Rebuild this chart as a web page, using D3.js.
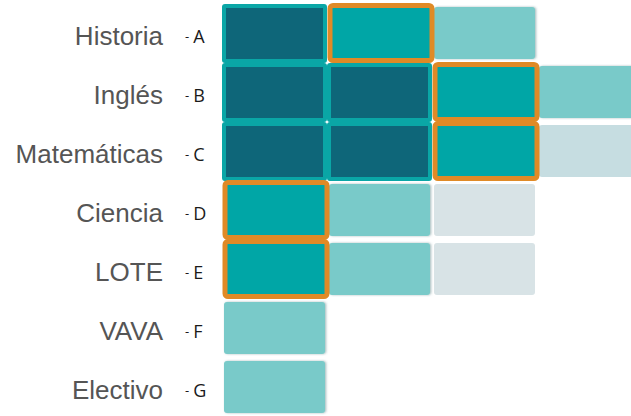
<!DOCTYPE html>
<html>
<head>
<meta charset="utf-8">
<script src="https://cdn.jsdelivr.net/npm/d3@7"></script>
<style>
	html, body { margin: 0; padding: 0; background: #fff; }
	svg { display: block; }
	.subject { font-family: 'Liberation Sans', Arial, sans-serif; fill: #555; }
	.code { font-family: 'Open Sans', 'DejaVu Sans', sans-serif; fill: #1a1a1a; }
</style>
</head>
<body>
<div id="chart"></div>
<script>
// data
const subjects = ['Historia', 'Inglés', 'Matemáticas', 'Ciencia', 'LOTE', 'VAVA', 'Electivo'];
const codes = ['A', 'B', 'C', 'D', 'E', 'F', 'G'];
// cell states per row, left to right
const levels = [
	['dark', 'sel', 'light'],
	['dark', 'dark', 'sel', 'light'],
	['dark', 'dark', 'sel', 'pale2'],
	['sel', 'light', 'pale'],
	['sel', 'light', 'pale'],
	['light'],
	['light']
];
const steps = [0, 1, 2, 3];

const width = 631;
const height = 416;

const fills = {
	dark: '#0e6679',
	sel: '#00a6a6',
	light: '#79cac9',
	pale: '#d8e3e6',
	pale2: '#c6dde1'
};

const $svg = d3.select('#chart').append('svg')
	.attr('width', width)
	.attr('height', height);

// soft edge on the light cells
const $filter = $svg.append('defs').append('filter')
	.attr('id', 'edge')
	.attr('x', '-10%').attr('y', '-10%')
	.attr('width', '120%').attr('height', '120%');
$filter.append('feDropShadow')
	.attr('dx', 1.2).attr('dy', 0)
	.attr('stdDeviation', 1)
	.attr('flood-color', '#3d6f72')
	.attr('flood-opacity', 0.45);

// scales
const y = d3.scaleBand().domain(codes).range([3, 416]);
const x = d3.scaleBand().domain(steps).range([222, 222 + 4 * 105]);

const cells = [];
levels.forEach((row, i) => {
	row.forEach((state, j) => {
		cells.push({ code: codes[i], step: steps[j], state });
	});
});

// draw order: plain cells first, selected ones on top
const order = { pale: 0, pale2: 0, light: 1, dark: 2, sel: 3 };
cells.sort((a, b) => order[a.state] - order[b.state]);

const $cells = $svg.append('g').attr('class', 'g-cells');

$cells.selectAll('rect')
	.data(cells)
	.join('rect')
	.attr('x', d => {
		if (d.state === 'dark') return x(d.step) + 2;
		if (d.state === 'sel') return x(d.step) + 3;
		return x(d.step) + 2;
	})
	.attr('y', d => {
		if (d.state === 'dark') return y(d.code) + 3;
		if (d.state === 'sel') return y(d.code) + 2.5;
		return y(d.code) + 4;
	})
	.attr('width', d => {
		if (d.state === 'dark') return x.bandwidth() - 4;
		if (d.state === 'sel') return x.bandwidth() - 3;
		return x.bandwidth() - 4;
	})
	.attr('height', d => {
		if (d.state === 'dark') return y.bandwidth() - 4;
		if (d.state === 'sel') return y.bandwidth() - 4;
		return y.bandwidth() - 7;
	})
	.attr('rx', d => (d.state === 'dark' ? 1 : 3))
	.attr('fill', d => fills[d.state])
	.attr('stroke', d => {
		if (d.state === 'dark') return '#0aa6a6';
		if (d.state === 'sel') return '#e08a26';
		return 'none';
	})
	.attr('stroke-width', d => (d.state === 'sel' ? 5 : 4))
	.attr('filter', d => (d.state === 'light' ? 'url(#edge)' : null));

// labels
const $labels = $svg.append('g').attr('class', 'g-labels');

$labels.selectAll('.subject')
	.data(subjects)
	.join('text')
	.attr('class', 'subject')
	.attr('x', 163)
	.attr('y', (d, i) => y(codes[i]) + y.bandwidth() / 2 + 3)
	.attr('text-anchor', 'end')
	.attr('dominant-baseline', 'central')
	.style('font-size', '26px')
	.text(d => d);

const $code = $labels.selectAll('.code')
	.data(codes)
	.join('text')
	.attr('class', 'code')
	.attr('x', 185)
	.attr('y', d => y(d) + y.bandwidth() / 2 + 3)
	.attr('dominant-baseline', 'central');

$code.append('tspan')
	.style('font-size', '13px')
	.text('-');
$code.append('tspan')
	.attr('dx', 4)
	.style('font-size', '18px')
	.text(d => d);
</script>
</body>
</html>
